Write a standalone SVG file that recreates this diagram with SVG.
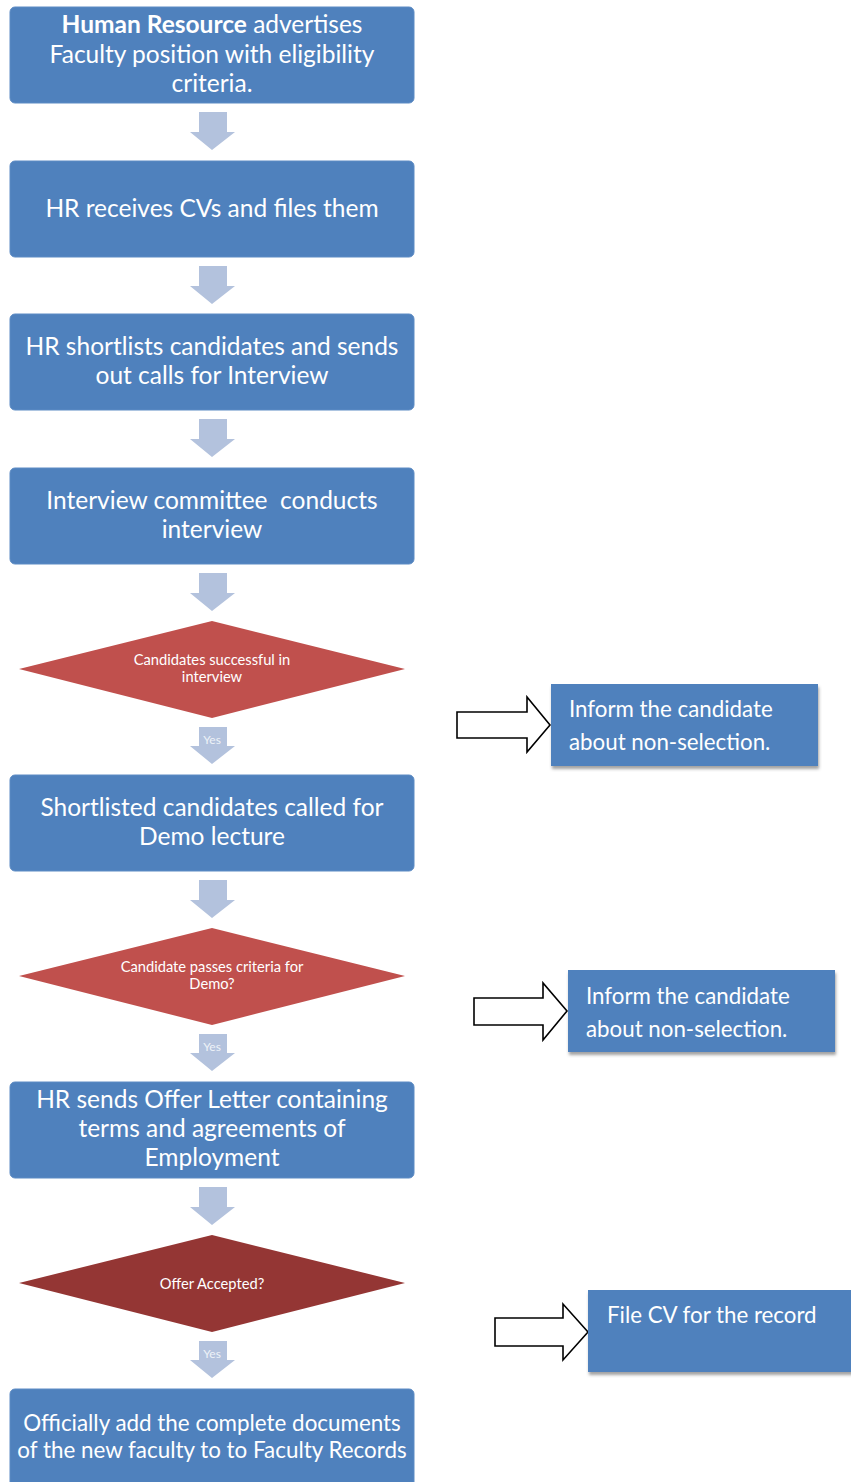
<svg xmlns="http://www.w3.org/2000/svg" width="851" height="1482" viewBox="0 0 851 1482">
<style>
.box{fill:#4F81BD;stroke:#5C8BC4;stroke-width:1}
.side{fill:#4F81BD}
.dia{fill:#C0504D}
.dia2{fill:#943634}
.bar{fill:#B3C2DD}
.hol{fill:#FFFFFF;stroke:#000000;stroke-width:1.6;stroke-linejoin:miter}
.t{font-family:Lato,"Open Sans","Liberation Sans",sans-serif;fill:#FFFFFF;font-size:24.5px;text-anchor:middle}
.t7{font-family:Lato,"Open Sans","Liberation Sans",sans-serif;fill:#FFFFFF;font-size:22.4px;text-anchor:middle}
.ts{font-family:Lato,"Open Sans","Liberation Sans",sans-serif;fill:#FFFFFF;font-size:22.3px}
.td{font-family:Lato,"Open Sans","Liberation Sans",sans-serif;fill:#FFFFFF;font-size:14.7px;text-anchor:middle}
.ty{font-family:Lato,"Open Sans","Liberation Sans",sans-serif;fill:#EEF2F8;font-size:12px;text-anchor:middle}
</style>
<defs>
<filter id="sh" x="-5%" y="-10%" width="115%" height="130%">
<feDropShadow dx="1" dy="3" stdDeviation="1.5" flood-color="#555" flood-opacity="0.55"/>
</filter>
<linearGradient id="edge" x1="0" y1="0" x2="1" y2="0">
<stop offset="0" stop-color="#3F6EA8"/>
<stop offset="0.03" stop-color="#4F81BD"/>
<stop offset="0.97" stop-color="#4F81BD"/>
<stop offset="1" stop-color="#5A8BC6"/>
</linearGradient>
</defs>

<g id="connectors">
<path class="bar" d="M199,112 H227 V132 H235 L212,150 L190,132 H199 Z"/>
<path class="bar" d="M199,266 H227 V286 H235 L212,304 L190,286 H199 Z"/>
<path class="bar" d="M199,419 H227 V439 H235 L212,457 L190,439 H199 Z"/>
<path class="bar" d="M199,573 H227 V593 H235 L212,611 L190,593 H199 Z"/>
<path class="bar" d="M199,727 H227 V746 H235 L212,764 L190,746 H199 Z"/>
<text class="ty" x="212" y="744">Yes</text>
<path class="bar" d="M199,880 H227 V900 H235 L212,918 L190,900 H199 Z"/>
<path class="bar" d="M199,1034 H227 V1053 H235 L212,1071 L190,1053 H199 Z"/>
<text class="ty" x="212" y="1051">Yes</text>
<path class="bar" d="M199,1187 H227 V1207 H235 L212,1225 L190,1207 H199 Z"/>
<path class="bar" d="M199,1341 H227 V1360 H235 L212,1378 L190,1360 H199 Z"/>
<text class="ty" x="212" y="1358">Yes</text>
<path class="hol" d="M457,712 H527 V697 L550,725 L527,752 V738 H457 Z"/>
<path class="hol" d="M474,998 H543 V983 L567,1011 L543,1040 V1025 H474 Z"/>
<path class="hol" d="M495,1318 H563 V1304 L588,1332 L563,1360 V1346 H495 Z"/>
</g>

<g id="n1">
<rect class="box" x="10" y="7" width="404" height="96" rx="5"/>
<text class="t" x="212" y="33"><tspan font-weight="bold">Human Resource</tspan> advertises</text>
<text class="t" x="212" y="63">Faculty position with eligibility</text>
<text class="t" x="212" y="92">criteria.</text>
</g>
<g id="n2">
<rect class="box" x="10" y="161" width="404" height="96" rx="5"/>
<text class="t" x="212" y="217">HR receives CVs and files them</text>
</g>
<g id="n3">
<rect class="box" x="10" y="314" width="404" height="96" rx="5"/>
<text class="t" x="212" y="355">HR shortlists candidates and sends</text>
<text class="t" x="212" y="384">out calls for Interview</text>
</g>
<g id="n4">
<rect class="box" x="10" y="468" width="404" height="96" rx="5"/>
<text class="t" x="212" y="509" xml:space="preserve">Interview committee  conducts</text>
<text class="t" x="212" y="538">interview</text>
</g>
<g id="d1">
<polygon class="dia" points="212,621 405,669 212,718 19,669"/>
<text class="td" x="212" y="665">Candidates successful in</text>
<text class="td" x="212" y="682">interview</text>
</g>
<g id="s1">
<rect class="side" x="551" y="684" width="267" height="82" fill="url(#edge)" filter="url(#sh)"/>
<text class="ts" x="569" y="717">Inform the candidate</text>
<text class="ts" x="569" y="750">about non-selection.</text>
</g>
<g id="n5">
<rect class="box" x="10" y="775" width="404" height="96" rx="5"/>
<text class="t" x="212" y="816">Shortlisted candidates called for</text>
<text class="t" x="212" y="845">Demo lecture</text>
</g>
<g id="d2">
<polygon class="dia" points="212,928 405,976 212,1025 19,976"/>
<text class="td" x="212" y="972">Candidate passes criteria for</text>
<text class="td" x="212" y="989">Demo?</text>
</g>
<g id="s2">
<rect class="side" x="568" y="970" width="267" height="82" fill="url(#edge)" filter="url(#sh)"/>
<text class="ts" x="586" y="1004">Inform the candidate</text>
<text class="ts" x="586" y="1037">about non-selection.</text>
</g>
<g id="n6">
<rect class="box" x="10" y="1082" width="404" height="96" rx="5"/>
<text class="t" x="212" y="1108">HR sends Offer Letter containing</text>
<text class="t" x="212" y="1137">terms and agreements of</text>
<text class="t" x="212" y="1166">Employment</text>
</g>
<g id="d3">
<polygon class="dia2" points="212,1235 405,1283 212,1332 19,1283"/>
<text class="td" x="212" y="1289">Offer Accepted?</text>
</g>
<g id="s3">
<rect class="side" x="588" y="1290" width="270" height="82" fill="url(#edge)" filter="url(#sh)"/>
<text class="ts" x="607" y="1323">File CV for the record</text>
</g>
<g id="n7">
<rect class="box" x="10" y="1389" width="404" height="100" rx="5"/>
<text class="t7" x="212" y="1431">Officially add the complete documents</text>
<text class="t7" x="212" y="1458">of the new faculty to to Faculty Records</text>
</g>
</svg>
